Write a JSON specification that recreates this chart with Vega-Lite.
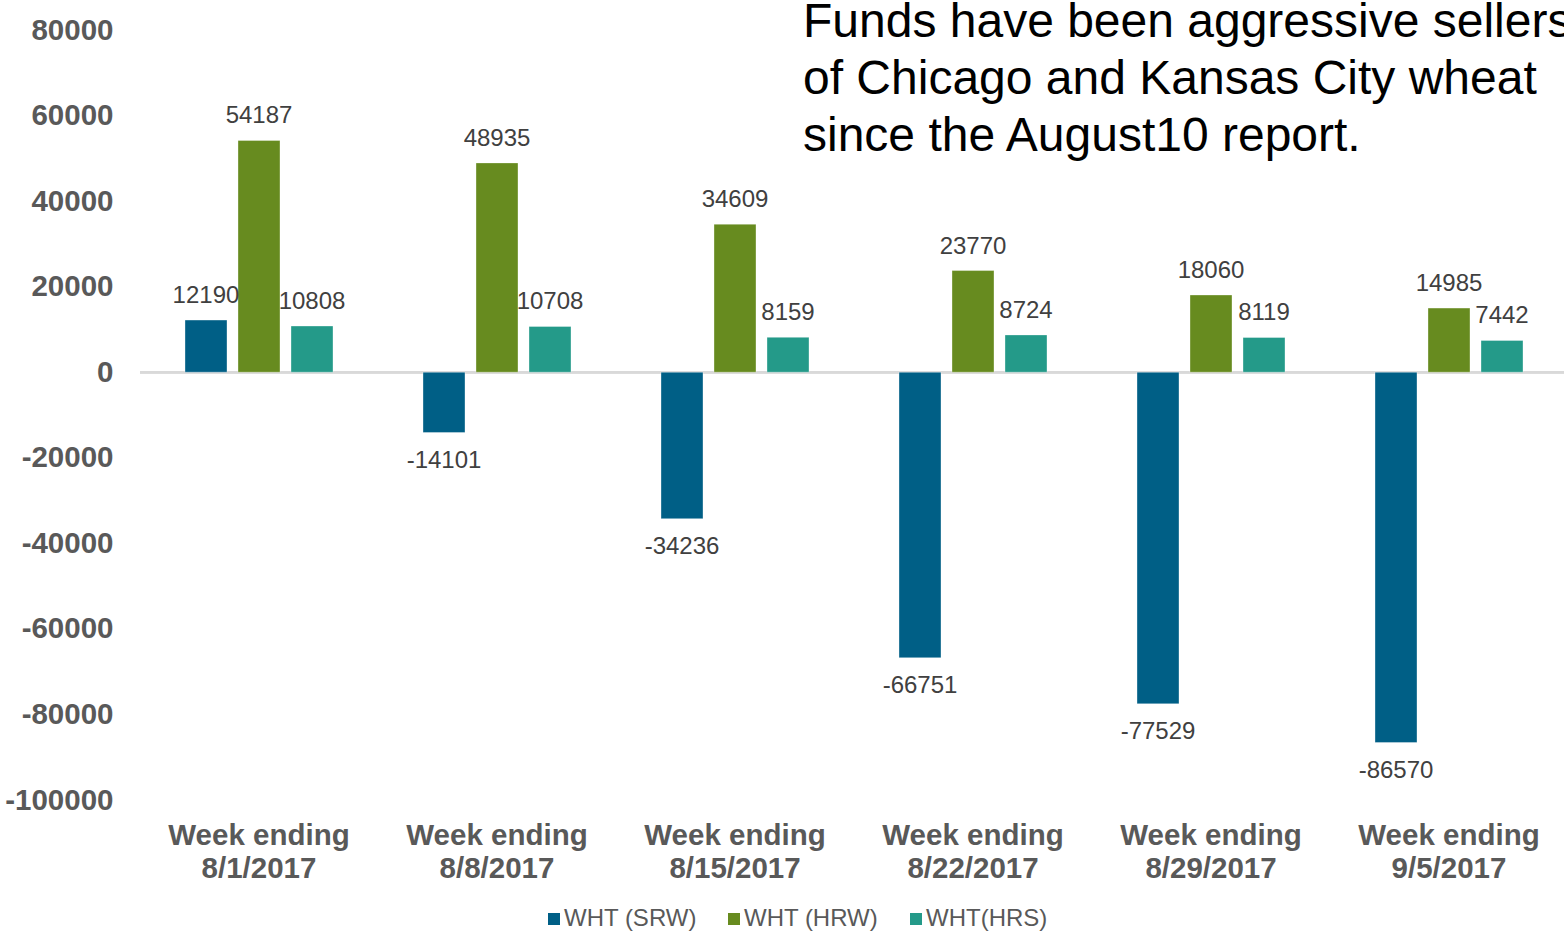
{
  "$schema": "https://vega.github.io/schema/vega-lite/v6.json",
  "width": 1428,
  "height": 770,
  "autosize": {"type": "none"},
  "padding": {"left": 140, "top": 30, "right": 0, "bottom": 132},
  "background": "white",
  "config": {"font": "Liberation Sans", "view": {"stroke": null}},
  "title": {
    "text": ["Funds have been aggressive sellers", "of Chicago and Kansas City wheat", "since the August10 report."],
    "anchor": "start",
    "frame": "group",
    "orient": "top",
    "offset": -146,
    "dx": 663,
    "fontSize": 48,
    "fontWeight": "normal",
    "font": "Liberation Sans",
    "color": "#000000",
    "lineHeight": 57,
    "limit": 0
  },
  "data": {
    "values": [
      {"week": "Week ending|8/1/2017", "series": "WHT (SRW)", "value": 12190},
      {"week": "Week ending|8/1/2017", "series": "WHT (HRW)", "value": 54187},
      {"week": "Week ending|8/1/2017", "series": "WHT(HRS)", "value": 10808},
      {"week": "Week ending|8/8/2017", "series": "WHT (SRW)", "value": -14101},
      {"week": "Week ending|8/8/2017", "series": "WHT (HRW)", "value": 48935},
      {"week": "Week ending|8/8/2017", "series": "WHT(HRS)", "value": 10708},
      {"week": "Week ending|8/15/2017", "series": "WHT (SRW)", "value": -34236},
      {"week": "Week ending|8/15/2017", "series": "WHT (HRW)", "value": 34609},
      {"week": "Week ending|8/15/2017", "series": "WHT(HRS)", "value": 8159},
      {"week": "Week ending|8/22/2017", "series": "WHT (SRW)", "value": -66751},
      {"week": "Week ending|8/22/2017", "series": "WHT (HRW)", "value": 23770},
      {"week": "Week ending|8/22/2017", "series": "WHT(HRS)", "value": 8724},
      {"week": "Week ending|8/29/2017", "series": "WHT (SRW)", "value": -77529},
      {"week": "Week ending|8/29/2017", "series": "WHT (HRW)", "value": 18060},
      {"week": "Week ending|8/29/2017", "series": "WHT(HRS)", "value": 8119},
      {"week": "Week ending|9/5/2017", "series": "WHT (SRW)", "value": -86570},
      {"week": "Week ending|9/5/2017", "series": "WHT (HRW)", "value": 14985},
      {"week": "Week ending|9/5/2017", "series": "WHT(HRS)", "value": 7442}
    ]
  },
  "layer": [
    {
      "mark": {"type": "rule", "color": "#d9d9d9", "strokeWidth": 2},
      "encoding": {"y": {"datum": 0, "type": "quantitative"}}
    },
    {
      "mark": {"type": "bar", "strokeWidth": 1, "strokeOpacity": 0.35, "stroke": "#ffffff"},
      "encoding": {
        "x": {
          "field": "week", "type": "nominal", "sort": null,
          "scale": {"paddingInner": 0, "paddingOuter": 0},
          "axis": {
            "title": null, "domain": false, "ticks": false, "tickSize": 0, "grid": false,
            "labelAngle": 0, "labelPadding": 21, "labelBaseline": "top", "labelLimit": 0,
            "labelExpr": "split(datum.label, '|')",
            "labelFont": "Liberation Sans", "labelFontSize": 29.5, "labelFontWeight": "bold",
            "labelColor": "#595959", "labelLineHeight": 33.5, "labelAlign": "center"
          }
        },
        "xOffset": {
          "field": "series", "type": "nominal",
          "sort": ["WHT (SRW)", "WHT (HRW)", "WHT(HRS)"],
          "scale": {"paddingInner": 0.2075, "paddingOuter": 0.849}
        },
        "y": {
          "field": "value", "type": "quantitative",
          "scale": {"domain": [-100000, 80000], "nice": false, "zero": false},
          "axis": {
            "title": null, "domain": false, "ticks": false, "tickSize": 0, "grid": false,
            "values": [-100000, -80000, -60000, -40000, -20000, 0, 20000, 40000, 60000, 80000],
            "labelExpr": "toString(datum.value)", "labelPadding": 27,
            "labelFont": "Liberation Sans", "labelFontSize": 29.5, "labelFontWeight": "bold",
            "labelColor": "#595959", "labelOverlap": false, "labelFlush": false
          }
        },
        "color": {
          "field": "series", "type": "nominal",
          "scale": {"domain": ["WHT (SRW)", "WHT (HRW)", "WHT(HRS)"], "range": ["#005f86", "#678b1f", "#249a89"]},
          "legend": {
            "orient": "none", "legendX": 402, "legendY": 877, "direction": "horizontal",
            "title": null, "symbolType": "square", "symbolSize": 144, "symbolStrokeWidth": 0,
            "labelFontSize": 24, "labelColor": "#595959", "labelFont": "Liberation Sans",
            "columnPadding": 25, "labelOffset": -2
          }
        }
      }
    },
    {
      "transform": [{"filter": "datum.value >= 0"}],
      "mark": {"type": "text", "baseline": "alphabetic", "dy": -17, "fontSize": 24, "color": "#404040", "font": "Liberation Sans"},
      "encoding": {
        "x": {"field": "week", "type": "nominal", "sort": null},
        "xOffset": {"field": "series", "type": "nominal", "sort": ["WHT (SRW)", "WHT (HRW)", "WHT(HRS)"]},
        "y": {"field": "value", "type": "quantitative"},
        "text": {"field": "value", "type": "nominal"}
      }
    },
    {
      "transform": [{"filter": "datum.value < 0"}],
      "mark": {"type": "text", "baseline": "alphabetic", "dy": 35, "fontSize": 24, "color": "#404040", "font": "Liberation Sans"},
      "encoding": {
        "x": {"field": "week", "type": "nominal", "sort": null},
        "xOffset": {"field": "series", "type": "nominal", "sort": ["WHT (SRW)", "WHT (HRW)", "WHT(HRS)"]},
        "y": {"field": "value", "type": "quantitative"},
        "text": {"field": "value", "type": "nominal"}
      }
    }
  ]
}
